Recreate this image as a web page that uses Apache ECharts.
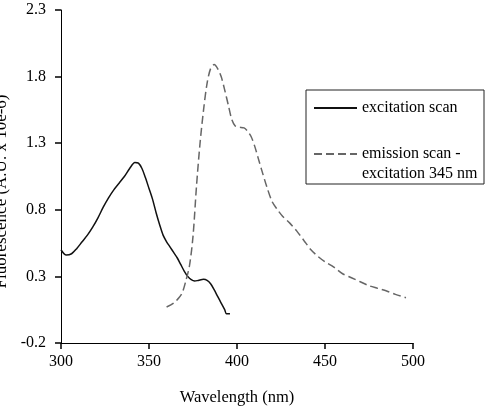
<!DOCTYPE html>
<html>
<head>
<meta charset="utf-8">
<script src="https://cdn.jsdelivr.net/npm/echarts@6/dist/echarts.min.js"></script>
<style>
  html, body { margin: 0; padding: 0; background: #fff; }
  #chart { width: 491px; height: 408px; }
</style>
</head>
<body>
<div id="chart"></div>
<script>
// values
const xTicks = [300, 350, 400, 450, 500];
const yTicks = [-0.2, 0.3, 0.8, 1.3, 1.8, 2.3];

const excitationName = 'excitation scan';
const excitationWl = [300, 303, 306, 309, 312, 315, 318, 321, 324, 327, 330, 333, 336, 339, 342, 344, 346, 348, 350, 352, 354, 356, 358, 360, 362, 364, 366, 368, 370, 372, 374, 376, 378, 381, 383, 385, 387, 389, 391, 393, 394, 396];
const excitationVal = [0.50, 0.46, 0.47, 0.51, 0.56, 0.61, 0.67, 0.74, 0.82, 0.89, 0.95, 1.00, 1.05, 1.11, 1.155, 1.15, 1.11, 1.04, 0.96, 0.88, 0.78, 0.69, 0.61, 0.56, 0.52, 0.48, 0.44, 0.39, 0.34, 0.30, 0.275, 0.265, 0.27, 0.278, 0.27, 0.245, 0.20, 0.15, 0.10, 0.05, 0.02, 0.02];

const emissionName = 'emission scan -\nexcitation 345 nm';
const emissionWl = [360, 364, 367, 369, 371, 373, 375, 377, 379, 381, 383, 385, 387, 389, 391, 393, 395, 397, 399, 401, 404, 406, 408, 410, 412, 414, 417, 420, 423, 426, 430, 434, 438, 442, 446, 450, 455, 460, 465, 470, 475, 480, 485, 490, 496];
const emissionVal = [0.07, 0.10, 0.14, 0.18, 0.27, 0.38, 0.60, 0.98, 1.30, 1.55, 1.75, 1.86, 1.89, 1.86, 1.80, 1.70, 1.59, 1.48, 1.43, 1.42, 1.415, 1.39, 1.35, 1.28, 1.19, 1.10, 0.97, 0.86, 0.80, 0.75, 0.70, 0.64, 0.57, 0.50, 0.45, 0.41, 0.37, 0.32, 0.29, 0.26, 0.23, 0.21, 0.19, 0.165, 0.14];

function pairs(xs, ys) {
    return xs.map(function (x, i) { return [x, ys[i]]; });
}

const font = 'Liberation Serif, Times New Roman, serif';
const chart = echarts.init(document.getElementById('chart'));

// both legend blocks share this, the symbol is hidden so only the line shows
const legendBase = {
    orient: 'vertical',
    left: 313,
    padding: 0,
    itemWidth: 43,
    itemHeight: 14,
    itemStyle: { opacity: 0 },
    textStyle: { fontFamily: font, fontSize: 16, color: '#000', lineHeight: 20 }
};

// width 1 ticks vanished in the photo, so a bit thicker
const tickStyle = { show: true, inside: false, length: 6, lineStyle: { color: '#000', width: 1.5 } };

chart.setOption({
    backgroundColor: '#fff',
    animation: false,
    textStyle: { fontFamily: font, color: '#000', fontSize: 16 },
    grid: { left: 61, right: 78, top: 10, bottom: 65, outerBoundsMode: 'none', containLabel: false },
    legend: [
        Object.assign({}, legendBase, { top: 98, data: [excitationName] }),
        Object.assign({}, legendBase, {
            top: 124,
            data: [emissionName],
            // empty first line so the icon sits beside "emission scan -"
            formatter: function (name) { return '\n' + name; }
        })
    ],
    // border round the two legend blocks
    graphic: [{
        type: 'rect',
        silent: true,
        shape: { x: 306, y: 90, width: 178, height: 94 },
        style: { fill: 'none', stroke: '#222', lineWidth: 1 }
    }],
    xAxis: {
        type: 'value',
        min: xTicks[0],
        max: xTicks[xTicks.length - 1],
        interval: 50,
        name: 'Wavelength (nm)',
        nameLocation: 'middle',
        nameGap: 46,
        nameTextStyle: { fontFamily: font, fontSize: 16.5, color: '#000' },
        axisLine: { onZero: false, lineStyle: { color: '#000', width: 1 } },
        axisTick: tickStyle,
        axisLabel: { margin: 11, fontFamily: font, fontSize: 16, color: '#000' },
        splitLine: { show: false }
    },
    yAxis: {
        type: 'value',
        min: yTicks[0],
        max: yTicks[yTicks.length - 1],
        interval: 0.5,
        name: 'Fluorescence (A.U. x 10e-6)',
        nameLocation: 'middle',
        nameGap: 48,
        nameTextStyle: { fontFamily: font, fontSize: 17, color: '#000', padding: [0, 30, 0, 0] },
        axisLine: { show: true, onZero: false, lineStyle: { color: '#000', width: 1 } },
        axisTick: tickStyle,
        axisLabel: {
            margin: 15,
            fontFamily: font, fontSize: 16, color: '#000',
            formatter: function (v) { return v.toFixed(1); }
        },
        splitLine: { show: false }
    },
    series: [{
        name: excitationName,
        type: 'line',
        data: pairs(excitationWl, excitationVal),
        symbol: 'none',
        smooth: 0.3,
        color: '#111',
        lineStyle: { color: '#111', width: 1.5 }
    }, {
        name: emissionName,
        type: 'line',
        data: pairs(emissionWl, emissionVal),
        symbol: 'none',
        smooth: 0.3,
        color: '#666',
        lineStyle: { color: '#666', width: 1.5, type: [8, 4] }
    }]
});
</script>
</body>
</html>
